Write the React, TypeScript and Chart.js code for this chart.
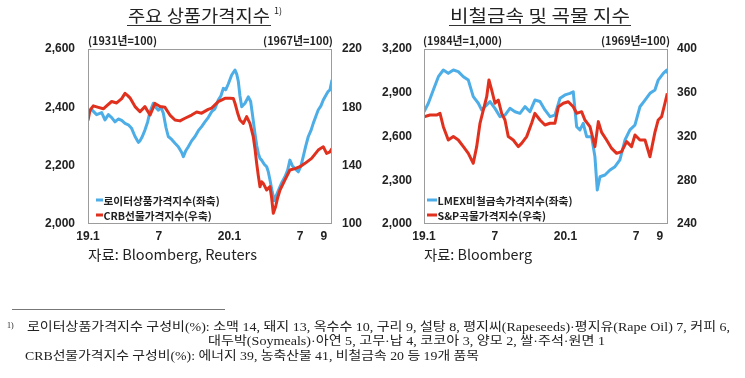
import React, { useEffect, useRef } from "react";
import { Chart, registerables } from "chart.js";

Chart.register(...registerables);

// x positions are months since Jan 2019 (0 = 19.1, 12 = 20.1)
const X_TICKS = [0, 6, 12, 18, 20];
const X_LABELS = ["19.1", "7", "20.1", "7", "9"];

// Left chart: Reuters commodity index (left axis, 1931=100)
const REUTERS_M = [0, 0.31, 0.73, 1.16, 1.44, 1.73, 2.01, 2.29, 2.57, 2.86, 3.14, 3.42, 3.7, 3.99, 4.27, 4.41, 4.61, 4.83, 5.06, 5.26, 5.54, 5.74, 5.97, 6.19, 6.39, 6.62, 6.81, 7.1, 7.38, 7.66, 7.95, 8.09, 8.28, 8.51, 8.79, 9.08, 9.36, 9.64, 9.92, 10.2, 10.49, 10.77, 11.05, 11.28, 11.48, 11.68, 11.9, 12.19, 12.47, 12.61, 12.75, 12.89, 13.04, 13.32, 13.6, 13.8, 13.97, 14.16, 14.31, 14.45, 14.59, 14.73, 14.95, 15.16, 15.29, 15.44, 15.63, 15.8, 16.0, 16.29, 16.48, 16.71, 16.94, 17.13, 17.33, 17.56, 17.84, 18.07, 18.26, 18.46, 18.69, 18.91, 19.11, 19.34, 19.53, 19.76, 19.96, 20.16, 20.38, 20.53, 20.7];
const REUTERS_V = [2385, 2392, 2375, 2382, 2357, 2375, 2365, 2350, 2360, 2355, 2345, 2340, 2328, 2300, 2280, 2285, 2300, 2322, 2350, 2385, 2414, 2400, 2390, 2400, 2380, 2330, 2300, 2290, 2277, 2265, 2245, 2231, 2250, 2265, 2285, 2300, 2320, 2334, 2350, 2365, 2385, 2395, 2425, 2440, 2465, 2460, 2480, 2511, 2528, 2515, 2490, 2440, 2402, 2414, 2436, 2420, 2370, 2311, 2270, 2242, 2225, 2219, 2205, 2196, 2180, 2151, 2110, 2080, 2100, 2128, 2145, 2162, 2185, 2219, 2200, 2190, 2179, 2200, 2231, 2265, 2300, 2320, 2345, 2370, 2391, 2405, 2425, 2440, 2455, 2460, 2494];

// Left chart: CRB futures index (right axis, 1967=100)
const CRB_M = [0, 0.17, 0.45, 0.88, 1.3, 1.58, 2.01, 2.43, 2.86, 3.14, 3.37, 3.56, 3.99, 4.41, 4.83, 5.26, 5.54, 5.68, 6.11, 6.53, 6.95, 7.38, 7.8, 8.23, 8.79, 9.22, 9.64, 10.2, 10.49, 11.05, 11.62, 12.04, 12.33, 12.47, 12.7, 12.89, 13.18, 13.46, 13.74, 14.02, 14.16, 14.31, 14.45, 14.59, 14.73, 14.87, 15.16, 15.44, 15.58, 15.72, 15.92, 16.09, 16.29, 16.71, 17.13, 17.56, 17.98, 18.41, 18.97, 19.53, 19.96, 20.24, 20.53, 20.7];
const CRB_V = [171, 178, 181, 180, 179, 181, 184, 183, 186, 189.6, 188, 186.5, 180.5, 177, 180.5, 174.7, 180, 182.7, 180.5, 180, 174.7, 171.3, 170.7, 172.5, 174.7, 176.8, 176, 178.6, 179.5, 183.9, 186.2, 186.2, 186, 182.8, 176, 171.3, 169, 173.6, 169, 159.9, 152, 141.6, 133, 125.6, 129, 127.9, 123.3, 125.6, 118, 107.3, 112, 118, 123.3, 130.2, 137, 138, 139.3, 141.6, 145, 150.7, 153, 148.4, 149.5, 151.8];

// Right chart: LMEX non-ferrous metals index (left axis, 1984=1,000)
const LMEX_M = [0, 0.37, 0.79, 1.22, 1.64, 2.06, 2.49, 2.91, 3.34, 3.76, 4.18, 4.61, 4.89, 5.17, 5.6, 6.02, 6.45, 6.87, 7.29, 7.72, 8.14, 8.57, 8.99, 9.41, 9.84, 10.26, 10.69, 11.11, 11.54, 11.96, 12.38, 12.66, 12.95, 13.23, 13.51, 13.8, 14.22, 14.5, 14.7, 14.93, 15.35, 15.78, 16.2, 16.62, 17.05, 17.47, 17.9, 18.32, 18.75, 19.17, 19.59, 19.87, 20.3, 20.59, 20.7];
const LMEX_V = [2770, 2828, 2919, 3010, 3056, 3033, 3056, 3045, 3010, 2987, 2873, 2828, 2782, 2805, 2839, 2793, 2736, 2747, 2793, 2770, 2759, 2805, 2770, 2850, 2840, 2782, 2736, 2747, 2862, 2885, 2896, 2907, 2667, 2645, 2690, 2599, 2599, 2462, 2233, 2324, 2336, 2370, 2393, 2439, 2576, 2645, 2679, 2804, 2850, 2896, 2919, 2987, 3033, 3056, 3033];

// Right chart: S&P grains index (right axis, 1969=100)
const SPG_M = [0, 0.51, 1.07, 1.36, 1.64, 2.06, 2.49, 2.91, 3.34, 3.76, 4.18, 4.47, 4.75, 5.03, 5.32, 5.51, 5.74, 6.02, 6.3, 6.59, 6.87, 7.15, 7.57, 8.0, 8.28, 8.71, 9.13, 9.41, 9.84, 10.26, 10.69, 11.11, 11.4, 11.82, 12.24, 12.66, 12.95, 13.37, 13.65, 14.08, 14.5, 14.79, 15.07, 15.49, 15.92, 16.34, 16.76, 17.19, 17.61, 17.9, 18.32, 18.75, 19.17, 19.59, 19.87, 20.16, 20.44, 20.64];
const SPG_V = [338, 339.6, 339.6, 341.2, 329, 316.8, 319.9, 316.8, 310.7, 304.6, 295.5, 310.7, 332.1, 344.2, 356.4, 371.7, 362.6, 350.4, 353.4, 341.2, 335.1, 319.9, 316.8, 310.7, 313.7, 319.9, 332.1, 341.2, 335.1, 330.5, 332.1, 332.1, 347.2, 350.4, 351.8, 347.2, 341.2, 342.7, 335.1, 329, 310.7, 333.6, 323.8, 316.8, 309.1, 304.6, 306.2, 315.3, 310.7, 321.4, 316.8, 316.8, 301.5, 323.8, 335.1, 338.1, 350.4, 359.5];

const BLUE = "#4dade6";
const RED = "#e0311f";
const TICK_FONT = { family: "'Liberation Sans', 'Noto Sans CJK KR', sans-serif", size: 12, weight: "bold" as const };

const frameLegendPlugin = {
  id: "frameLegend",
  afterDatasetsDraw(chart: any, _args: any, opts: any) {
    const { ctx, chartArea } = chart;
    const { left, top, right, bottom } = chartArea;
    ctx.save();
    ctx.strokeStyle = "#9c9c9c";
    ctx.lineWidth = 1;
    ctx.strokeRect(left + 0.5, top + 0.5, right - left - 1, bottom - top - 1);
    // legend
    const items = opts.items || [];
    ctx.font = "bold 10.7px 'Noto Sans CJK KR', 'Liberation Sans', sans-serif";
    ctx.textBaseline = "middle";
    items.forEach((idx: number, k: number) => {
      const ds = chart.data.datasets[idx];
      const y = bottom - opts.dy0 + k * 15;
      const x0 = left + opts.dx;
      ctx.strokeStyle = ds.borderColor;
      ctx.lineWidth = 3;
      ctx.beginPath();
      ctx.moveTo(x0, y);
      ctx.lineTo(x0 + opts.sw, y);
      ctx.stroke();
      ctx.fillStyle = "#222";
      ctx.fillText(ds.label, x0 + opts.sw + 0.5, y + 0.5);
    });
    ctx.restore();
  },
};

function toPts(m: number[], v: number[]) {
  return m.map((x, i) => ({ x, y: v[i] }));
}

function makeConfig(p: any) {
  return {
    type: "line" as const,
    data: {
      datasets: [
        { label: p.blueLabel, data: toPts(p.bm, p.bv), yAxisID: "yL", borderColor: BLUE, backgroundColor: BLUE, borderWidth: 3, pointRadius: 0, tension: 0, borderJoinStyle: "round", order: 1 },
        { label: p.redLabel, data: toPts(p.rm, p.rv), yAxisID: "yR", borderColor: RED, backgroundColor: RED, borderWidth: 3, pointRadius: 0, tension: 0, borderJoinStyle: "round", order: 0 },
      ],
    },
    options: {
      responsive: false,
      maintainAspectRatio: false,
      animation: false,
      layout: { padding: { top: 49, left: 0, right: 0, bottom: 0 } },
      plugins: {
        legend: { display: false },
        tooltip: { enabled: false },
        frameLegend: { items: [0, 1], dx: p.legDx, sw: p.legSw, dy0: 24 },
      },
      scales: {
        x: {
          type: "linear",
          min: 0,
          max: 20.7,
          grid: { display: false, drawTicks: false },
          border: { display: false },
          afterBuildTicks: (s: any) => {
            s.ticks = X_TICKS.map((v) => ({ value: v }));
          },
          afterFit: (s: any) => {
            s.height = 26;
          },
          ticks: { autoSkip: false, maxRotation: 0, padding: 5, color: "#222", font: TICK_FONT, callback: (_v: any, i: number) => X_LABELS[i] },
        },
        yL: {
          position: "left",
          min: p.lMin,
          max: p.lMax,
          grid: { display: false, drawTicks: false },
          border: { display: false },
          afterFit: (s: any) => {
            s.width = p.lW;
          },
          ticks: { stepSize: p.lStep, padding: p.lPad, color: "#222", font: TICK_FONT, callback: (v: any) => Number(v).toLocaleString("en-US") },
        },
        yR: {
          position: "right",
          min: p.rMin,
          max: p.rMax,
          grid: { display: false, drawTicks: false },
          border: { display: false },
          afterFit: (s: any) => {
            s.width = p.rW;
          },
          ticks: { stepSize: p.rStep, padding: p.rPad, color: "#222", font: TICK_FONT, callback: (v: any) => Number(v).toLocaleString("en-US") },
        },
      },
    },
    plugins: [frameLegendPlugin],
  };
}

function ChartCanvas({ cfg, w, h }: { cfg: any; w: number; h: number }) {
  const ref = useRef<HTMLCanvasElement>(null);
  useEffect(() => {
    if (!ref.current) return;
    const c = new Chart(ref.current, makeConfig(cfg) as any);
    return () => c.destroy();
  }, []);
  return <canvas ref={ref} width={w} height={h} style={{ width: w, height: h, display: "block" }} />;
}

const LEFT_CFG = {
  blueLabel: "로이터상품가격지수(좌축)",
  redLabel: "CRB선물가격지수(우축)",
  bm: REUTERS_M, bv: REUTERS_V, rm: CRB_M, rv: CRB_V,
  lMin: 2000, lMax: 2600, lStep: 200, lW: 88, lPad: 13,
  rMin: 100, rMax: 220, rStep: 40, rW: 40, rPad: 10,
  legDx: 8, legSw: 7,
};
const RIGHT_CFG = {
  blueLabel: "LMEX비철금속가격지수(좌축)",
  redLabel: "S&P곡물가격지수(우축)",
  bm: LMEX_M, bv: LMEX_V, rm: SPG_M, rv: SPG_V,
  lMin: 2000, lMax: 3200, lStep: 300, lW: 52, lPad: 12,
  rMin: 240, rMax: 400, rStep: 40, rW: 77, rPad: 9,
  legDx: 3, legSw: 10,
};

const SANS = "'Noto Sans CJK KR', 'Liberation Sans', sans-serif";
const SERIF = "'Liberation Serif', 'Noto Sans CJK KR', serif";

export default function App() {
  return (
    <div style={{ position: "absolute", left: 0, top: 0, width: 745, height: 378, background: "#fff", overflow: "hidden" }}>
      <div style={{ position: "absolute", left: 0, top: 0 }}>
        <ChartCanvas cfg={LEFT_CFG} w={372} h={250} />
      </div>
      <div style={{ position: "absolute", left: 372, top: 0 }}>
        <ChartCanvas cfg={RIGHT_CFG} w={373} h={250} />
      </div>
      <svg width={745} height={378} style={{ position: "absolute", left: 0, top: 0 }}>
        {/* titles */}
        <text x={128} y={22} fontFamily={SANS} fontSize={17} fill="#222" textLength={142} lengthAdjust="spacingAndGlyphs">주요 상품가격지수</text>
        <line x1={127} y1={25.5} x2={271} y2={25.5} stroke="#333" strokeWidth={1} />
        <text x={274} y={14} fontFamily={SANS} fontSize={9} fill="#222">1)</text>
        <text x={450} y={22} fontFamily={SANS} fontSize={17} fill="#222" textLength={180} lengthAdjust="spacingAndGlyphs">비철금속 및 곡물 지수</text>
        <line x1={449} y1={25.5} x2={631} y2={25.5} stroke="#333" strokeWidth={1} />
        {/* units */}
        <text x={88} y={45} fontFamily={SANS} fontSize={11} fontWeight="bold" fill="#222" textLength={69} lengthAdjust="spacingAndGlyphs">(1931년=100)</text>
        <text x={263} y={45} fontFamily={SANS} fontSize={11} fontWeight="bold" fill="#222" textLength={70} lengthAdjust="spacingAndGlyphs">(1967년=100)</text>
        <text x={423} y={45} fontFamily={SANS} fontSize={11} fontWeight="bold" fill="#222" textLength={79} lengthAdjust="spacingAndGlyphs">(1984년=1,000)</text>
        <text x={601} y={45} fontFamily={SANS} fontSize={11} fontWeight="bold" fill="#222" textLength={69} lengthAdjust="spacingAndGlyphs">(1969년=100)</text>
        {/* sources */}
        <text x={88} y={260} fontFamily={SANS} fontSize={14} fill="#222" textLength={169} lengthAdjust="spacingAndGlyphs">자료: Bloomberg, Reuters</text>
        <text x={424} y={260} fontFamily={SANS} fontSize={14} fill="#222" textLength={108} lengthAdjust="spacingAndGlyphs">자료: Bloomberg</text>
        {/* footnote */}
        <line x1={12} y1={309.5} x2={225} y2={309.5} stroke="#777" strokeWidth={1.2} />
        <text x={7} y={328} fontFamily={SERIF} fontSize={8} fill="#222">1)</text>
        <text x={27} y={331} fontFamily={SERIF} fontSize={12.5} fill="#222" textLength={703} lengthAdjust="spacingAndGlyphs">로이터상품가격지수 구성비(%): 소맥 14, 돼지 13, 옥수수 10, 구리 9, 설탕 8, 평지씨(Rapeseeds)·평지유(Rape Oil) 7, 커피 6,</text>
        <text x={208} y={345} fontFamily={SERIF} fontSize={12.5} fill="#222" textLength={397} lengthAdjust="spacingAndGlyphs">대두박(Soymeals)·아연 5, 고무·납 4, 코코아 3, 양모 2, 쌀·주석·원면 1</text>
        <text x={25} y={360} fontFamily={SERIF} fontSize={12.5} fill="#222" textLength={454} lengthAdjust="spacingAndGlyphs">CRB선물가격지수 구성비(%): 에너지 39, 농축산물 41, 비철금속 20 등 19개 품목</text>
      </svg>
    </div>
  );
}
